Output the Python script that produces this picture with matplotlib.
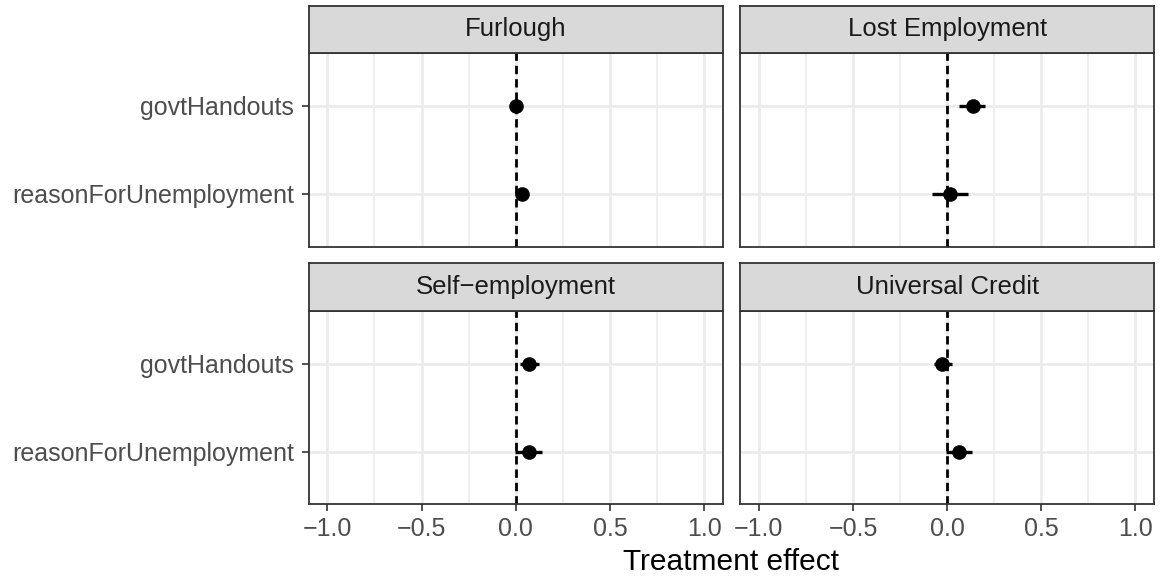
import matplotlib
matplotlib.use("Agg")
import matplotlib.pyplot as plt
from matplotlib.ticker import MultipleLocator

plt.rcParams['font.family'] = ['Liberation Sans', 'DejaVu Sans']

# facet panels, in reading order
panels = ["Furlough", "Lost Employment", "Self\u2212employment", "Universal Credit"]
terms = ["govtHandouts", "reasonForUnemployment"]

# point estimates and interval ends, one list per panel (order follows terms)
est = {
    "Furlough": [0.003, 0.033],
    "Lost Employment": [0.135, 0.014],
    "Self\u2212employment": [0.072, 0.070],
    "Universal Credit": [-0.025, 0.065],
}
lo = {
    "Furlough": [-0.004, 0.020],
    "Lost Employment": [0.065, -0.081],
    "Self\u2212employment": [0.021, -0.002],
    "Universal Credit": [-0.072, -0.004],
}
hi = {
    "Furlough": [0.010, 0.046],
    "Lost Employment": [0.203, 0.110],
    "Self\u2212employment": [0.123, 0.141],
    "Universal Credit": [0.028, 0.134],
}
xticks = [-1.0, -0.5, 0.0, 0.5, 1.0]
xlabels = ["\u22121.0", "\u22120.5", "0.0", "0.5", "1.0"]

W, H = 1162, 579
fig = plt.figure(figsize=(W / 100, H / 100), dpi=100)

# panel boxes in pixels
cols = [(308.5, 723.0), (740.0, 1154.3)]
rows = [(53.0, 246.7), (311.0, 504.3)]
strip_h = 47.5

edge = "#333333"
grid = "#EBEBEB"

for k, name in enumerate(panels):
    r, c = divmod(k, 2)
    x0, x1 = cols[c]
    y0, y1 = rows[r]
    ax = fig.add_axes([x0 / W, 1 - y1 / H, (x1 - x0) / W, (y1 - y0) / H])
    ax.set_xlim(-1.1, 1.1)
    ax.set_ylim(2.6, 0.4)
    ax.xaxis.set_major_locator(MultipleLocator(0.5))
    ax.xaxis.set_minor_locator(MultipleLocator(0.25))
    ax.set_yticks([1, 2])
    ax.grid(True, which="major", color=grid, lw=1.9, zorder=0)
    ax.grid(True, which="minor", axis="x", color=grid, lw=1.1, zorder=0)
    ax.set_axisbelow(True)
    ax.axvline(0, color="black", lw=2.0, ls=(0, (3, 1.8)), zorder=2)
    ys = [1, 2]
    ax.hlines(ys, lo[name], hi[name], color="black", lw=2.4, zorder=3)
    ax.plot(est[name], ys, "o", color="black", ms=9.5, zorder=4)
    for s in ax.spines.values():
        s.set_color(edge)
        s.set_linewidth(1.3)
    ax.tick_params(which="minor", length=0)
    ax.tick_params(which="major", color=edge, length=5, width=1.2,
                   labelsize=18, labelcolor="#4D4D4D")
    ax.tick_params(axis="x", pad=4)
    ax.tick_params(axis="y", pad=5.5)
    ax.set_xticks(xticks)
    if r == 1:
        ax.set_xticklabels(xlabels)
    else:
        ax.tick_params(axis="x", length=0, labelbottom=False)
    if c == 0:
        ax.set_yticklabels(terms)
    else:
        ax.tick_params(axis="y", length=0, labelleft=False)

    # strip
    sax = fig.add_axes([x0 / W, 1 - y0 / H, (x1 - x0) / W, strip_h / H])
    sax.set_facecolor("#D9D9D9")
    sax.set_xticks([])
    sax.set_yticks([])
    for s in sax.spines.values():
        s.set_color(edge)
        s.set_linewidth(1.3)
    sax.text(0.5, 0.5, name, ha="center", va="center", fontsize=18.5,
             color="#1A1A1A", transform=sax.transAxes)

fig.text((308.5 + 1154.3) / 2 / W, 1 - 562 / H, "Treatment effect",
         ha="center", va="center", fontsize=21.5, color="black")

fig.savefig("out.png", dpi=100)
